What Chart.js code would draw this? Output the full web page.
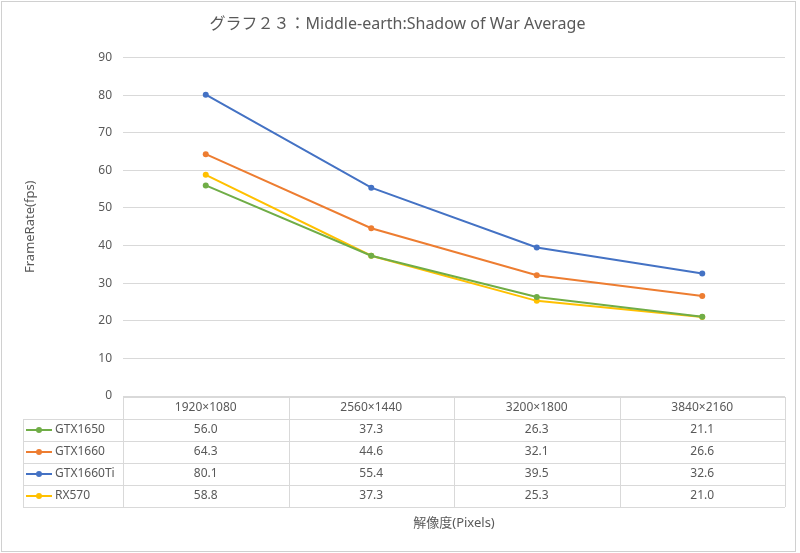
<!DOCTYPE html>
<html>
<head>
<meta charset="utf-8">
<script src="https://cdn.jsdelivr.net/npm/chart.js@4/dist/chart.umd.min.js"></script>
<style>
html,body{margin:0;padding:0;background:#fff;}
#wrap{width:800px;height:553px;position:relative;}
</style>
</head>
<body>
<div id="wrap"><canvas id="c" width="800" height="553"></canvas></div>
<script>
const categories = ['1920×1080', '2560×1440', '3200×1800', '3840×2160'];
const seriesNames = ['GTX1650', 'GTX1660', 'GTX1660Ti', 'RX570'];
const gtx1650 = [56.0, 37.3, 26.3, 21.1];
const gtx1660 = [64.3, 44.6, 32.1, 26.6];
const gtx1660ti = [80.1, 55.4, 39.5, 32.6];
const rx570 = [58.8, 37.3, 25.3, 21.0];
const seriesColors = ['#70ad47', '#ed7d31', '#4472c4', '#ffc000'];
const yTicks = [0, 10, 20, 30, 40, 50, 60, 70, 80, 90];

const FONT = '"Noto Sans", "Noto Sans CJK JP", sans-serif';
const allSeries = [gtx1650, gtx1660, gtx1660ti, rx570];

const datasets = allSeries.map((d, i) => ({
  label: seriesNames[i],
  data: d,
  borderColor: seriesColors[i],
  backgroundColor: seriesColors[i],
  borderWidth: 2,
  pointRadius: 3,
  pointHoverRadius: 3,
  pointBorderWidth: 0,
  tension: 0,
  fill: false
}));

const tablePlugin = {
  id: 'dataTable',
  afterDraw(chart) {
    const ctx = chart.ctx;
    const xs = chart.scales.x;
    const area = chart.chartArea;
    const n = categories.length;
    const colW = (xs.right - xs.left) / n;
    const top = Math.round(area.bottom) + 1;
    const rowH = 22;
    const legendLeft = 23;
    ctx.save();
    ctx.strokeStyle = '#d9d9d9';
    ctx.lineWidth = 1;
    ctx.beginPath();
    for (let i = 0; i <= n; i++) {
      const x = Math.round(xs.left + i * colW) + 0.5;
      ctx.moveTo(x, top);
      ctx.lineTo(x, top + rowH * (seriesNames.length + 1));
    }
    ctx.moveTo(xs.left, top + 0.5);
    ctx.lineTo(xs.right, top + 0.5);
    for (let r = 1; r <= seriesNames.length + 1; r++) {
      const y = Math.round(top + r * rowH) + 0.5;
      ctx.moveTo(legendLeft, y);
      ctx.lineTo(xs.right, y);
    }
    const lx = legendLeft + 0.5;
    ctx.moveTo(lx, top + rowH);
    ctx.lineTo(lx, top + rowH * (seriesNames.length + 1));
    ctx.stroke();

    ctx.font = '12px ' + FONT;
    ctx.textBaseline = 'middle';
    ctx.fillStyle = '#595959';
    ctx.textAlign = 'center';
    categories.forEach((c, i) => {
      ctx.fillText(c, xs.getPixelForValue(i), top + rowH / 2);
    });
    seriesNames.forEach((name, r) => {
      const cy = top + rowH * (r + 1) + rowH / 2;
      ctx.strokeStyle = seriesColors[r];
      ctx.lineWidth = 2;
      ctx.beginPath();
      ctx.moveTo(26, cy);
      ctx.lineTo(52, cy);
      ctx.stroke();
      ctx.fillStyle = seriesColors[r];
      ctx.beginPath();
      ctx.arc(39, cy, 3, 0, Math.PI * 2);
      ctx.fill();
      ctx.fillStyle = '#595959';
      ctx.textAlign = 'left';
      ctx.fillText(name, 55, cy);
      ctx.textAlign = 'center';
      allSeries[r].forEach((v, i) => {
        ctx.fillText(v.toFixed(1), xs.getPixelForValue(i), cy);
      });
    });
    ctx.strokeStyle = '#d0d0d0';
    ctx.lineWidth = 1;
    ctx.strokeRect(1.5, 1.5, 794, 550);
    ctx.restore();
  }
};

new Chart(document.getElementById('c'), {
  type: 'line',
  data: { labels: categories, datasets },
  options: {
    responsive: false,
    animation: false,
    devicePixelRatio: 1,
    layout: { padding: { left: 10, right: 15, top: 0, bottom: 0 } },
    plugins: {
      legend: { display: false },
      tooltip: { enabled: false },
      title: {
        display: true,
        text: 'グラフ２３：Middle-earth:Shadow of War Average',
        color: '#595959',
        font: { family: FONT, size: 16, weight: 'normal' },
        padding: { top: 14.5, bottom: 23.8 }
      }
    },
    scales: {
      x: {
        type: 'category',
        offset: true,
        grid: { display: false, drawTicks: false },
        border: { display: false },
        ticks: { display: false },
        title: {
          display: true,
          text: '解像度(Pixels)',
          color: '#595959',
          font: { family: FONT, size: 13 },
          padding: { top: 0, bottom: 22 }
        },
        afterFit(scale) { scale.height = 553 - 396; }
      },
      y: {
        min: 0,
        max: 90,
        afterBuildTicks(scale) { scale.ticks = yTicks.map(v => ({ value: v })); },
        grid: { color: '#d9d9d9', drawTicks: false, lineWidth: 1 },
        border: { display: false },
        ticks: {
          color: '#595959',
          font: { family: FONT, size: 12 },
          padding: 11
        },
        title: {
          display: true,
          text: 'FrameRate(fps)',
          color: '#595959',
          font: { family: FONT, size: 13 },
          padding: { top: 12, bottom: 0 }
        },
        afterFit(scale) { scale.width = 123 - 10; }
      }
    }
  },
  plugins: [tablePlugin]
});
</script>
</body>
</html>
